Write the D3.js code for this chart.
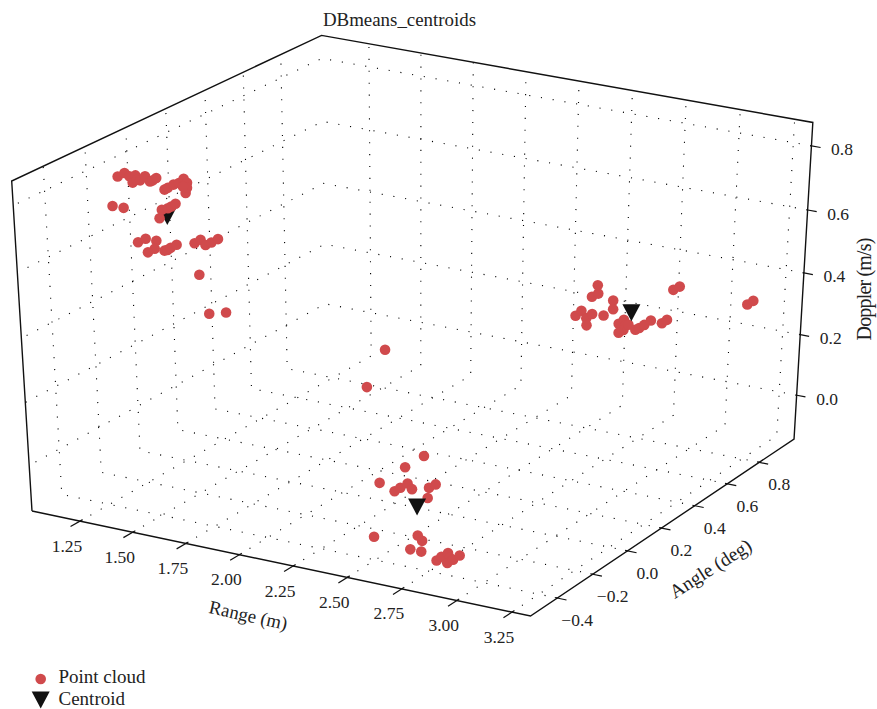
<!DOCTYPE html>
<html>
<head>
<meta charset="utf-8">
<style>html,body{margin:0;padding:0;background:#fff}svg{display:block}text{font-family:"Liberation Serif","DejaVu Serif",serif;fill:#222}</style>
<script src="https://cdn.jsdelivr.net/npm/d3@7/dist/d3.min.js"></script>
</head>
<body>
<script>
const rangeTicks = [1.25,1.5,1.75,2,2.25,2.5,2.75,3,3.25];
const angleTicks = [-0.4,-0.2,0,0.2,0.4,0.6,0.8];
const dopplerTicks = [0,0.2,0.4,0.6,0.8];
const rangeDomain = [1.021,3.333];
const angleDomain = [-0.548,1.022];
const dopplerDomain = [-0.147,0.872];

const cloudRange = [
 1.264,1.296,1.318,1.332,1.346,1.351,1.367,1.390,1.412,1.425,1.441,
 1.477,1.492,1.519,1.544,1.566,1.581,1.573,1.580,1.562,
 1.234,1.285,1.449,1.461,1.489,1.505,1.525,
 1.345,1.381,1.430,1.421,1.389,1.466,1.480,1.495,1.523,
 1.606,1.634,1.656,1.683,1.714,1.623,1.663,1.741,
 1.945,1.857,
 2.515,2.542,2.566,2.568,2.593,2.647,2.690,2.691,2.590,2.619,2.616,2.968,2.997,
 2.719,2.743,2.753,2.742,2.720,2.765,2.798,2.816,2.839,2.869,2.921,2.944,
 3.166,3.193,
 2.767,2.682,2.566,2.634,2.660,2.693,2.713,2.790,2.820,2.784,
 2.739,2.759,2.705,2.755,2.539,2.825,2.847,2.877,2.885,2.874,2.900,2.930];
const cloudDoppler = [
 0.842,0.856,0.849,0.832,0.855,0.843,0.843,0.858,0.845,0.850,0.859,
 0.829,0.836,0.849,0.857,0.872,0.862,0.831,0.847,0.849,
 0.750,0.751,0.740,0.767,0.775,0.782,0.793,
 0.655,0.670,0.670,0.645,0.630,0.645,0.649,0.657,0.670,
 0.685,0.699,0.686,0.697,0.711,0.592,0.478,0.492,
 0.2055,0.0728,
 0.259,0.279,0.258,0.235,0.275,0.277,0.331,0.303,0.330,0.344,0.370,0.401,0.415,
 0.260,0.276,0.261,0.243,0.231,0.263,0.251,0.259,0.272,0.290,0.288,0.302,
 0.3156,0.331,
 0.239,0.192,0.127,0.110,0.125,0.143,0.128,0.143,0.158,0.110,
 -0.015,-0.029,-0.064,-0.064,-0.048,-0.082,-0.067,-0.051,-0.065,-0.083,-0.069,-0.051];
const cloudAngle = [
 -0.3,-0.3,-0.3,-0.3,-0.3,-0.3,-0.3,-0.3,-0.3,-0.3,-0.3,
 -0.3,-0.3,-0.3,-0.3,-0.3,-0.3,-0.3,-0.3,-0.3,
 -0.3,-0.3,-0.3,-0.3,-0.3,-0.3,-0.3,
 -0.3,-0.3,-0.3,-0.3,-0.3,-0.3,-0.3,-0.3,-0.3,
 -0.3,-0.3,-0.3,-0.3,-0.3,-0.3,-0.3,-0.3,
 0.3,0.3,
 0.7,0.7,0.7,0.7,0.7,0.7,0.7,0.7,0.7,0.7,0.7,0.7,0.7,
 0.7,0.7,0.7,0.7,0.7,0.7,0.7,0.7,0.7,0.7,0.7,0.7,
 0.9,0.9,
 -0.45,-0.45,-0.45,-0.45,-0.45,-0.45,-0.45,-0.45,-0.45,-0.45,
 -0.45,-0.45,-0.45,-0.45,-0.45,-0.45,-0.45,-0.45,-0.45,-0.45,-0.45,-0.45];
const centroidRange = [1.485,2.777,2.736];
const centroidAngle = [-0.3,0.7,-0.45];
const centroidDoppler = [0.750,0.303,0.075];
const titleText = "DBmeans_centroids";
const legendLabels = ["Point cloud","Centroid"];

const W = 877, H = 709;
const svg = d3.select("body").append("svg").attr("width",W).attr("height",H);

// Perspective frame of the plot box: pixel corners and homogeneous weights
const frame = {A:[32,511], B:[530.5,616], D:[326,347], T:[11.7,181], a:0.9694, b:1.0823, c:0.95};
const su = d3.scaleLinear().domain(rangeDomain).range([0,1]);
const sv = d3.scaleLinear().domain(angleDomain).range([0,1]);
const sw = d3.scaleLinear().domain(dopplerDomain).range([0,1]);
function project(r,a,z){
  const u=su(r), v=sv(a), w=sw(z), {A,B,D,T,a:ka,b:kb,c:kc}=frame;
  const h=[0,1].map(i=>A[i]+u*(ka*B[i]-A[i])+v*(kb*D[i]-A[i])+w*(kc*T[i]-A[i]));
  const d=1+u*(ka-1)+v*(kb-1)+w*(kc-1);
  return [h[0]/d,h[1]/d];
}
const line = d3.line();
const [r0,r1]=rangeDomain, [a0,a1]=angleDomain, [z0,z1]=dopplerDomain;

// dotted grid, each running across two panes
const grid = svg.append("g").attr("fill","none").attr("stroke","#000").attr("stroke-width",1.1).attr("stroke-dasharray","1.1 10.8");
dopplerTicks.forEach(z=>grid.append("path").attr("d",line([project(r1,a1,z),project(r0,a1,z),project(r0,a0,z)])));
angleTicks.forEach(a=>grid.append("path").attr("d",line([project(r1,a,z0),project(r0,a,z0),project(r0,a,z1)])));
rangeTicks.forEach(r=>grid.append("path").attr("d",line([project(r,a0,z0),project(r,a1,z0),project(r,a1,z1)])));

// box outline
const outline = svg.append("g").attr("fill","none").attr("stroke","#111").attr("stroke-width",1.4).attr("stroke-linejoin","miter");
outline.append("path").attr("d",line([project(r0,a0,z0),project(r0,a0,z1),project(r0,a1,z1),project(r1,a1,z1),project(r1,a1,z0),project(r1,a0,z0),project(r0,a0,z0)]));

// ticks and labels
const tickG = svg.append("g").attr("stroke","#111").attr("stroke-width",1.2);
const labelG = svg.append("g").attr("font-size",17.5).attr("text-anchor","middle");
const fmt = v=>d3.format(".2f")(v), fmt1 = v=>d3.format(".1f")(v).replace("-","\u2212");
rangeTicks.forEach(r=>{
  const [x1,y1]=project(r,a0+0.013,z0),[x2,y2]=project(r,a0-0.047,z0),[x,y]=project(r,a0,z0);
  tickG.append("line").attr("x1",x1).attr("y1",y1).attr("x2",x2).attr("y2",y2);
  labelG.append("text").attr("x",x-13).attr("y",y+25+5.5).text(fmt(r));
});
angleTicks.forEach(a=>{
  const [x1,y1]=project(r1-0.011,a,z0),[x2,y2]=project(r1+0.042,a,z0),[x,y]=project(r1,a,z0);
  tickG.append("line").attr("x1",x1).attr("y1",y1).attr("x2",x2).attr("y2",y2);
  labelG.append("text").attr("x",x+20).attr("y",y+22.5+5.5).text(fmt1(a));
});
dopplerTicks.forEach(z=>{
  const [x1,y1]=project(r1-0.006,a1,z),[x2,y2]=project(r1+0.042,a1,z),[x,y]=project(r1,a1,z);
  tickG.append("line").attr("x1",x1).attr("y1",y1).attr("x2",x2).attr("y2",y2);
  labelG.append("text").attr("x",x+30.5).attr("y",y+4+5.5).text(fmt1(z));
});

// axis titles
const axisLab = svg.append("g").attr("text-anchor","middle");
axisLab.append("text").attr("font-size",18.8).attr("transform","translate(247,621.5) rotate(12.5)").text("Range (m)");
axisLab.append("text").attr("font-size",19.4).attr("transform","translate(714,574) rotate(-32.5)").text("Angle (deg)");
axisLab.append("text").attr("font-size",20).attr("transform","translate(871,289) rotate(-90)").attr("textLength",103).text("Doppler (m/s)");
svg.append("text").attr("x",399.5).attr("y",26).attr("font-size",18.9).attr("text-anchor","middle").text(titleText);

// marks
const tri = d3.symbol().type({draw(ctx){ctx.moveTo(-9,-8.5);ctx.lineTo(9,-8.5);ctx.lineTo(0,8.5);ctx.closePath();}});
const centroidPts = centroidRange.map((r,i)=>project(r,centroidAngle[i],centroidDoppler[i]));
const cloudPts = cloudRange.map((r,i)=>project(r,cloudAngle[i],cloudDoppler[i]));
const red = "#d04a4c", black = "#111";
svg.append("g").selectAll("path").data(centroidPts.slice(0,1)).join("path").attr("d",tri).attr("fill",black).attr("transform",d=>`translate(${d[0]},${d[1]})`);
svg.append("g").selectAll("circle").data(cloudPts).join("circle").attr("cx",d=>d[0]).attr("cy",d=>d[1]).attr("r",5.3).attr("fill",red);
svg.append("g").selectAll("path").data(centroidPts.slice(1)).join("path").attr("d",tri).attr("fill",black).attr("transform",d=>`translate(${d[0]},${d[1]})`);

// legend
const lg = svg.append("g");
lg.append("circle").attr("cx",40.7).attr("cy",679).attr("r",5.3).attr("fill",red);
lg.append("path").attr("d",tri).attr("fill",black).attr("transform","translate(40.7,700)");
lg.selectAll("text").data(legendLabels).join("text").attr("x",58.5).attr("y",(d,i)=>682.5+i*22.5).attr("font-size",19).text(d=>d);
</script>
</body>
</html>
